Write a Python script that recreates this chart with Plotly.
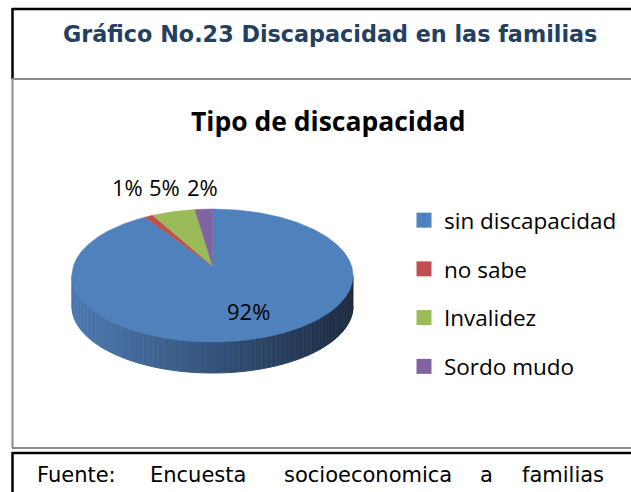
import numpy as np
import plotly.graph_objects as go

# ---- data ----
CATEGORIES = ["sin discapacidad", "no sabe", "Invalidez", "Sordo mudo"]
PERCENTS = [92, 1, 5, 2]
COLORS = ["#4F81BD", "#C0504D", "#9BBB59", "#8064A2"]
HEADER = "Gráfico No.23 Discapacidad en las familias"
CHART_TITLE = "Tipo de discapacidad"
SOURCE_WORDS = ["Fuente:", "Encuesta", "socioeconomica", "a", "familias"]

# ---- layout geometry (pixel space) ----
W, H = 631, 492
CX, CY, A, B, DEPTH = 212.5, 275.5, 140.5, 66.5, 31
APEX = (212.5, 266.0)
LABEL_POS = [(248, 311), (127, 187), (164, 187), (202, 187)]
SOURCE_X = [35, 148, 282, 478, 520]

def ell(theta_deg):
    t = np.radians(theta_deg)
    return CX + A * np.sin(t), CY - B * np.cos(t)

fig = go.Figure()

# side rim of the 3D pie (front half), gradient shading
N = 80
thetas = np.linspace(90, 270, N + 1)
c0 = np.array([0x4C, 0x78, 0xAF])
c1 = np.array([0x1C, 0x2A, 0x41])
for i in range(N):
    th = np.linspace(thetas[i], thetas[i + 1], 3)
    xs, ys = ell(th)
    px = list(xs) + list(xs[::-1])
    py = list(ys) + list((ys + DEPTH)[::-1])
    f = (xs.mean() - (CX - A)) / (2 * A)
    f = min(max(f, 0), 1) ** 1.1
    col = c0 + (c1 - c0) * f
    colstr = "rgb(%d,%d,%d)" % tuple(col.astype(int))
    fig.add_trace(go.Scatter(x=px, y=py, fill="toself", mode="lines",
                             fillcolor=colstr, line=dict(color=colstr, width=1),
                             hoverinfo="skip", showlegend=False))

# top face slices (clockwise from 12 o'clock)
total = float(sum(PERCENTS))
start = 0.0
for cat, val, col in zip(CATEGORIES, PERCENTS, COLORS):
    span = 360.0 * val / total
    th = np.linspace(start, start + span, max(4, int(span * 2)))
    xs, ys = ell(th)
    px = [APEX[0]] + list(xs) + [APEX[0]]
    py = [APEX[1]] + list(ys) + [APEX[1]]
    fig.add_trace(go.Scatter(x=px, y=py, fill="toself", mode="lines",
                             fillcolor=col, line=dict(color=col, width=0.5),
                             name=cat, hoverinfo="name", showlegend=False))
    start += span

# legend entries
for cat, col in zip(CATEGORIES, COLORS):
    fig.add_trace(go.Scatter(x=[None], y=[None], mode="markers", name=cat,
                             legendgroup=cat,
                             marker=dict(symbol="square", size=15, color=col)))

annotations = []
for (lx, ly), val in zip(LABEL_POS, PERCENTS):
    annotations.append(dict(x=lx, y=ly, xref="x", yref="y", text=f"{val}%",
                            showarrow=False, font=dict(family="Open Sans", size=22, color="black")))
annotations.append(dict(x=330, y=34, xref="x", yref="y", text=f"<b>{HEADER}</b>",
                        showarrow=False,
                        font=dict(family="DejaVu Sans", size=22.3, color="#243F60")))
annotations.append(dict(x=328, y=121, xref="x", yref="y", text=f"<b>{CHART_TITLE}</b>",
                        showarrow=False, font=dict(family="Open Sans", size=26.5, color="black")))
for wx, word in zip(SOURCE_X, SOURCE_WORDS):
    annotations.append(dict(x=wx, y=475, xref="x", yref="y", text=word, xanchor="left",
                            showarrow=False,
                            font=dict(family="DejaVu Sans", size=21, color="black")))

shapes = [
    dict(type="line", x0=12, x1=W + 5, y0=9, y1=9, line=dict(color="black", width=2.5)),
    dict(type="line", x0=12.5, x1=12.5, y0=8, y1=79, line=dict(color="black", width=2.5)),
    dict(type="line", x0=12, x1=W + 5, y0=79, y1=79, line=dict(color="#8C8C8C", width=2)),
    dict(type="line", x0=12.5, x1=12.5, y0=79, y1=448, line=dict(color="#8C8C8C", width=2)),
    dict(type="line", x0=12, x1=W + 5, y0=448, y1=448, line=dict(color="#8C8C8C", width=2)),
    dict(type="line", x0=12, x1=W + 5, y0=453, y1=453, line=dict(color="black", width=2.5)),
    dict(type="line", x0=12.5, x1=12.5, y0=452, y1=H + 5, line=dict(color="black", width=2.5)),
]
for s in shapes:
    s.update(xref="x", yref="y", layer="below")

fig.update_layout(
    width=W, height=H,
    margin=dict(l=0, r=0, t=0, b=0),
    paper_bgcolor="white", plot_bgcolor="white",
    xaxis=dict(range=[0, W], visible=False, fixedrange=True, domain=[0, 1]),
    yaxis=dict(range=[H, 0], visible=False, fixedrange=True, domain=[0, 1]),
    showlegend=True,
    legend=dict(x=404 / W, y=1 - 199 / H, xanchor="left", yanchor="top",
                font=dict(family="Open Sans", size=22.5, color="black"),
                tracegroupgap=16.5, itemsizing="trace", bgcolor="rgba(0,0,0,0)"),
    annotations=annotations,
    shapes=shapes,
)

fig.write_html("out.html", config={"displayModeBar": False},
               post_script="document.body.style.margin='0px';")
